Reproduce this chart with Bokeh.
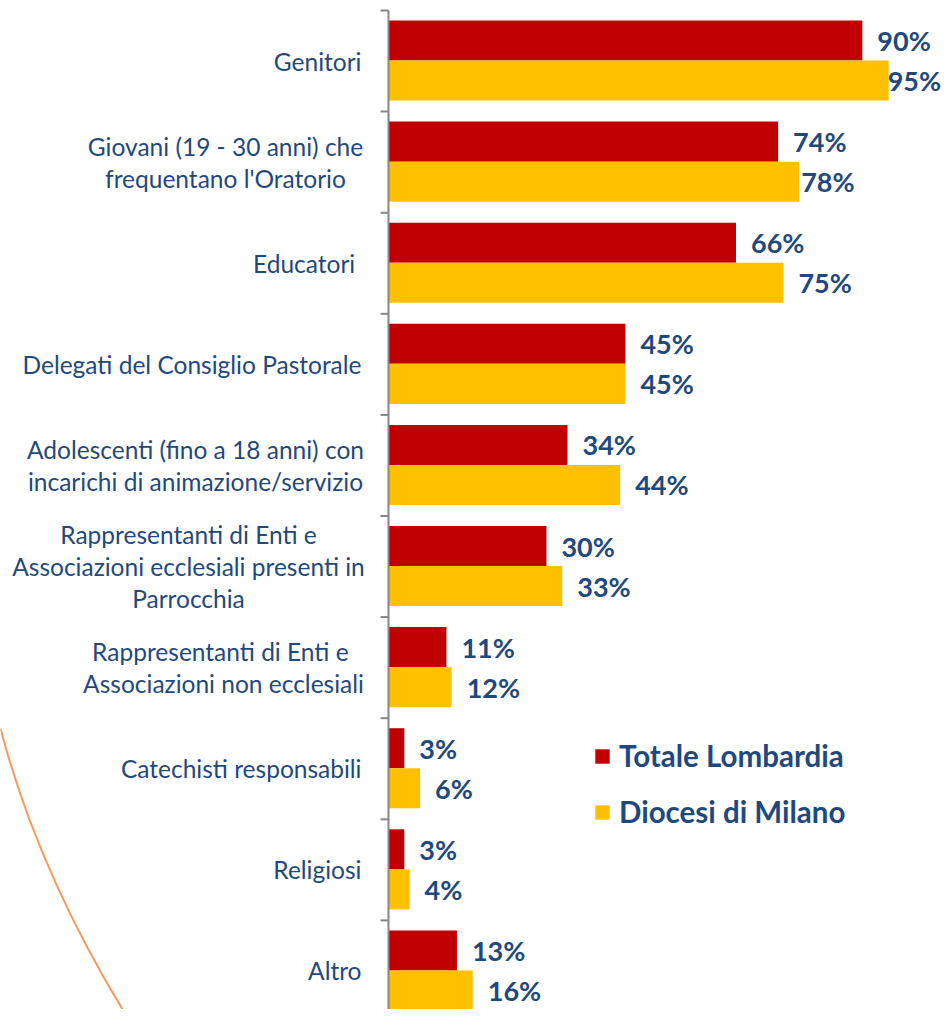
from bokeh.plotting import figure
from bokeh.models import Range1d, Legend, LegendItem, ColumnDataSource
from bokeh.core.properties import value
from bokeh.embed import file_html
from bokeh.resources import INLINE

categories = [
    "Genitori",
    "Giovani (19 - 30 anni) che\nfrequentano l'Oratorio",
    "Educatori ",
    "Delegati del Consiglio Pastorale",
    "Adolescenti (fino a 18 anni) con\nincarichi di animazione/servizio",
    "Rappresentanti di Enti e\nAssociazioni ecclesiali presenti in\nParrocchia",
    "Rappresentanti di Enti e \nAssociazioni non ecclesiali",
    "Catechisti responsabili",
    "Religiosi",
    "Altro",
]
lombardia = [90, 74, 66, 45, 34, 30, 11, 3, 3, 13]
milano = [95, 78, 75, 45, 44, 33, 12, 6, 4, 16]
series_names = ["Totale Lombardia", "Diocesi di Milano"]

# layout constants (pixels)
W, H = 941, 1009
PX = 5.265          # pixels per percent
X0 = 388            # pixel of 0 %
BAND = 101.1        # pixels per category band
TOP = 10            # pixel of first band top
# label block offsets from the axis (px)
label_offsets = [-27, -163, -27, -27, -193, -200, -165, -27, -27, -27]
label_aligns = ["right", "center", "right", "right", "center", "center", "center", "right", "right", "right"]
nudge_lomb = [0] * 10
nudge_mil = [-16, -13, 0, 0, 0, 0, 0, 0, 0, 0]

RED = "#C00000"
YEL = "#FFC000"
BLUE = "#1F497D"
GRAY = "#868686"

n = len(categories)
idx = list(range(n))

p = figure(
    width=W, height=H,
    x_range=Range1d(-X0 / PX, (W - X0) / PX),
    y_range=Range1d((H - TOP) / BAND, -TOP / BAND),
    x_axis_type=None, y_axis_type=None,
    output_backend="svg", toolbar_location=None,
    min_border=0, outline_line_color=None,
)
p.background_fill_color = "white"
p.border_fill_color = "white"

src = ColumnDataSource(dict(
    y_l=[i + 0.297 for i in idx],
    y_m=[i + 0.693 for i in idx],
    lomb=lombardia, mil=milano,
    lomb_t=[f"{v}%" for v in lombardia],
    mil_t=[f"{v}%" for v in milano],
    nl=[15 + d for d in nudge_lomb],
    nm=[15 + d for d in nudge_mil],
))

r_l = p.hbar(y="y_l", left=0, right="lomb", height=0.396, source=src,
             fill_color=RED, line_color=None)
r_m = p.hbar(y="y_m", left=0, right="mil", height=0.396, source=src,
             fill_color=YEL, line_color=None)

# value labels
p.text(x="lomb", y="y_l", text="lomb_t", x_offset="nl", source=src,
       text_font=value("Lato"), text_font_style="bold", text_font_size="27px",
       text_color=BLUE, text_align="left", text_baseline="middle")
p.text(x="mil", y="y_m", text="mil_t", x_offset="nm", source=src,
       text_font=value("Lato"), text_font_style="bold", text_font_size="27px",
       text_color=BLUE, text_align="left", text_baseline="middle")

# axis line and ticks
p.segment(x0=[0], y0=[0], x1=[0], y1=[n], line_color=GRAY, line_width=2)
p.segment(x0=[-8 / PX] * (n + 1), y0=list(range(n + 1)), x1=[0] * (n + 1), y1=list(range(n + 1)),
          line_color=GRAY, line_width=2)

# category labels
for i, c in enumerate(categories):
    p.text(x=[0], y=[i + 0.5], text=[c], x_offset=label_offsets[i],
           text_font=value("Lato"), text_font_size="24.5px", text_color=BLUE,
           text_align=label_aligns[i], text_baseline="middle", text_line_height=1.1)

# decorative orange curve (slide background)
def px2x(px):
    return (px - X0) / PX
def py2y(py):
    return (py - TOP) / BAND
p.quadratic(x0=[px2x(0)], y0=[py2y(728)], cx=[px2x(37.5)], cy=[py2y(871.5)],
            x1=[px2x(127)], y1=[py2y(1017)], line_color="#F79A5B", line_width=2)

legend = Legend(items=[LegendItem(label=series_names[0], renderers=[r_l]),
                       LegendItem(label=series_names[1], renderers=[r_m])],
                location=(593, 180), orientation="vertical",
                glyph_width=18, glyph_height=18, label_height=34, spacing=21,
                label_standoff=8, padding=0, margin=0,
                label_text_font="Lato", label_text_font_style="bold",
                label_text_font_size="29.5px", label_text_color=BLUE,
                border_line_color=None, background_fill_alpha=0)
p.add_layout(legend)

open("out.html", "w").write(file_html(p, INLINE))
